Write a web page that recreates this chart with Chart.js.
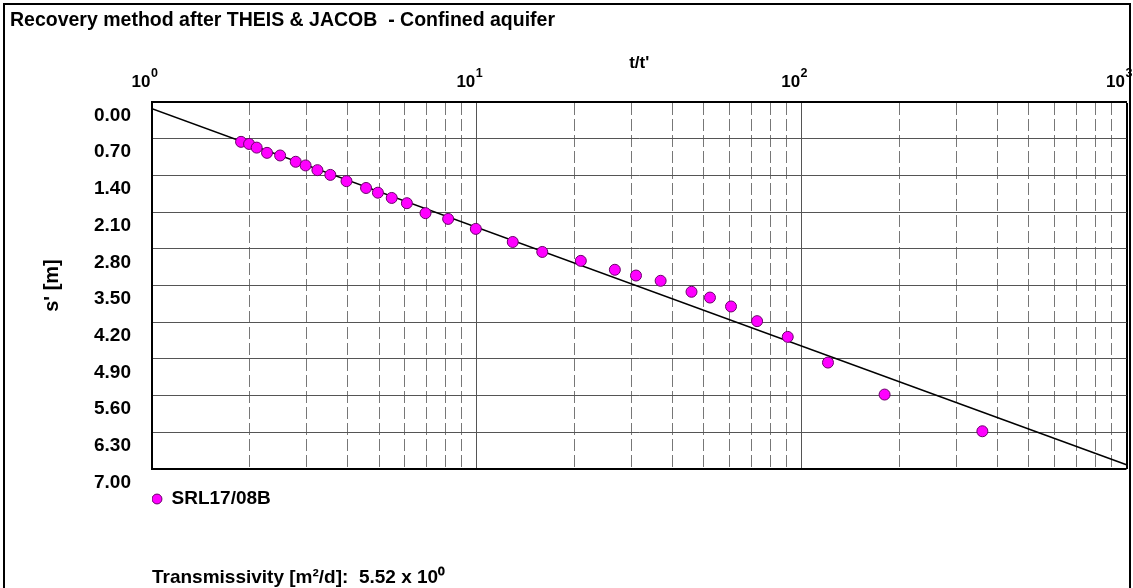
<!DOCTYPE html>
<html><head><meta charset="utf-8">
<script src="https://cdn.jsdelivr.net/npm/chart.js@4.4.1/dist/chart.umd.min.js"></script>
<style>
html,body{margin:0;padding:0;background:#fff;overflow:hidden}
#wrap{position:relative;width:1133px;height:588px}
#frame{position:absolute;left:3px;top:3px;width:1124px;height:700px;border:2px solid #000;pointer-events:none}
canvas{position:absolute;left:0;top:0}
</style></head><body>
<div id="wrap"><canvas id="c" width="1133" height="588"></canvas><div id="frame"></div></div>
<script>
const chartTitle = 'Recovery method after THEIS & JACOB  - Confined aquifer';
const xAxisTitle = "t/t'";
const yAxisTitle = "s' [m]";
const seriesName = 'SRL17/08B';
const footnote = 'Transmissivity [m²/d]:  5.52 x 10⁰';

const tRatio   = [1.88, 1.99, 2.10, 2.26, 2.48, 2.77, 2.97, 3.23, 3.54, 3.97, 4.56, 4.96, 5.47, 6.09, 6.95, 8.16, 9.93, 12.9, 15.9, 20.9, 26.6, 30.9, 36.8, 45.8, 52.2, 60.6, 72.9, 90.6, 120.5, 180, 360];
const drawdown = [0.76, 0.80, 0.87, 0.97, 1.02, 1.14, 1.21, 1.30, 1.39, 1.51, 1.64, 1.73, 1.83, 1.93, 2.12, 2.23, 2.42, 2.67, 2.86, 3.03, 3.20, 3.31, 3.41, 3.62, 3.73, 3.90, 4.18, 4.48, 4.97, 5.58, 6.28];

const fitT = [1, 1000];
const fitS = [0.13, 6.92];

const xTickValues = [1,2,3,4,5,6,7,8,9,10,20,30,40,50,60,70,80,90,100,200,300,400,500,600,700,800,900,1000];
const xDecades = [1, 10, 100, 1000];
const xDecadeBase = '10';
const xExponents = ['0', '1', '2', '3'];
const yTickValues = [0, 0.7, 1.4, 2.1, 2.8, 3.5, 4.2, 4.9, 5.6, 6.3, 7.0];

const FONT = "'Liberation Sans', Arial, sans-serif";
const isDecade = v => xDecades.indexOf(v) >= 0;

const X_TICK_SIZE = 17, X_SUP_SIZE = 12.5, X_PAD = 9, X_LABEL_OFF = -11;

// draws the exponent of each decade label of the x axis as a superscript
const superscriptPlugin = {
  id: 'superscript',
  afterDraw(chart) {
    const s = chart.scales.x, ctx = chart.ctx;
    ctx.save();
    ctx.fillStyle = '#000';
    ctx.font = `bold ${X_TICK_SIZE}px ${FONT}`;
    const m = ctx.measureText(xDecadeBase);
    const w = m.width;
    const baseY = s.bottom - X_PAD - (m.fontBoundingBoxDescent || X_TICK_SIZE * 0.21);
    ctx.font = `bold ${X_SUP_SIZE}px ${FONT}`;
    ctx.textAlign = 'left';
    ctx.textBaseline = 'alphabetic';
    xDecades.forEach((v, k) => {
      const px = s.getPixelForValue(v) + X_LABEL_OFF;
      ctx.fillText(xExponents[k], px + w / 2 + 0.5, baseY - 7);
    });
    ctx.restore();
  }
};

new Chart(document.getElementById('c'), {
  type: 'scatter',
  data: {
    datasets: [
      {
        label: seriesName,
        data: tRatio.map((t, i) => ({x: t, y: drawdown[i]})),
        backgroundColor: '#ff00ff',
        borderColor: '#6a006a',
        borderWidth: 1,
        pointRadius: 5.5,
        order: 0
      },
      {
        label: 'fit',
        type: 'line',
        data: fitT.map((t, i) => ({x: t, y: fitS[i]})),
        borderColor: '#000',
        borderWidth: 1.5,
        pointRadius: 0,
        fill: false,
        order: 1
      }
    ]
  },
  options: {
    responsive: false,
    animation: false,
    layout: {padding: {left: 10, top: 3, right: 6, bottom: 0}},
    plugins: {
      tooltip: {enabled: false},
      title: {
        display: true, text: chartTitle, align: 'start', color: '#000',
        font: {family: FONT, size: 19.5, weight: 'bold'},
        padding: {top: 5.5, bottom: 5.1}
      },
      subtitle: {
        display: true, text: footnote, position: 'bottom', align: 'start', fullSize: false, color: '#000',
        font: {family: FONT, size: 19, weight: 'bold', lineHeight: 1.0},
        padding: {top: 50, bottom: 0.5}
      },
      legend: {
        display: true, position: 'bottom', align: 'start', fullSize: false,
        title: {display: true, text: '', font: {size: 10}, padding: {top: 8.5, bottom: 0}},
        labels: {
          usePointStyle: true, pointStyle: 'circle', boxWidth: 10, boxHeight: 7, padding: 0,
          color: '#000', font: {family: FONT, size: 19, weight: 'bold'},
          filter: item => item.datasetIndex === 0
        }
      }
    },
    scales: {
      x: {
        type: 'logarithmic', position: 'top', min: 1, max: 1000,
        afterBuildTicks: s => { s.ticks = xTickValues.map(v => ({value: v, major: isDecade(v)})); },
        afterFit: s => { s.height = 65; s.paddingLeft = 0; s.paddingRight = 0; },
        ticks: {
          autoSkip: false, maxRotation: 0, minRotation: 0, padding: X_PAD, labelOffset: X_LABEL_OFF,
          color: '#000', font: {family: FONT, size: X_TICK_SIZE, weight: 'bold'},
          callback: v => isDecade(v) ? xDecadeBase : ''
        },
        grid: {
          drawTicks: false,
          color: c => (c.tick && c.tick.value === 1000) ? '#000' : (c.tick && isDecade(c.tick.value) ? '#555' : '#777'),
          lineWidth: c => (c.tick && c.tick.value === 1000) ? 2 : 1
        },
        border: {
          display: true, color: '#000', width: 2,
          dash: c => (c.tick && !isDecade(c.tick.value)) ? [12, 4] : []
        },
        title: {
          display: true, text: xAxisTitle, color: '#000',
          font: {family: FONT, size: 17, weight: 'bold'},
          padding: {top: 16, bottom: 0}
        }
      },
      y: {
        type: 'linear', reverse: true, min: 0, max: 7,
        afterBuildTicks: s => { s.ticks = yTickValues.map(v => ({value: v})); },
        afterFit: s => { s.width = 142; s.paddingTop = 0; s.paddingBottom = 0; },
        ticks: {
          autoSkip: false, padding: 21, labelOffset: 13.5, color: '#000',
          font: {family: FONT, size: 19, weight: 'bold'},
          callback: v => Number(v).toFixed(2)
        },
        grid: {
          drawTicks: false,
          color: c => (c.tick && c.tick.value === 7) ? '#000' : '#555',
          lineWidth: c => (c.tick && c.tick.value === 7) ? 2 : 1
        },
        border: {display: true, color: '#000', width: 2},
        title: {
          display: true, text: yAxisTitle, color: '#000',
          font: {family: FONT, size: 20, weight: 'bold'},
          padding: {top: 30, bottom: 0}
        }
      }
    }
  },
  plugins: [superscriptPlugin]
});
</script>
</body></html>
